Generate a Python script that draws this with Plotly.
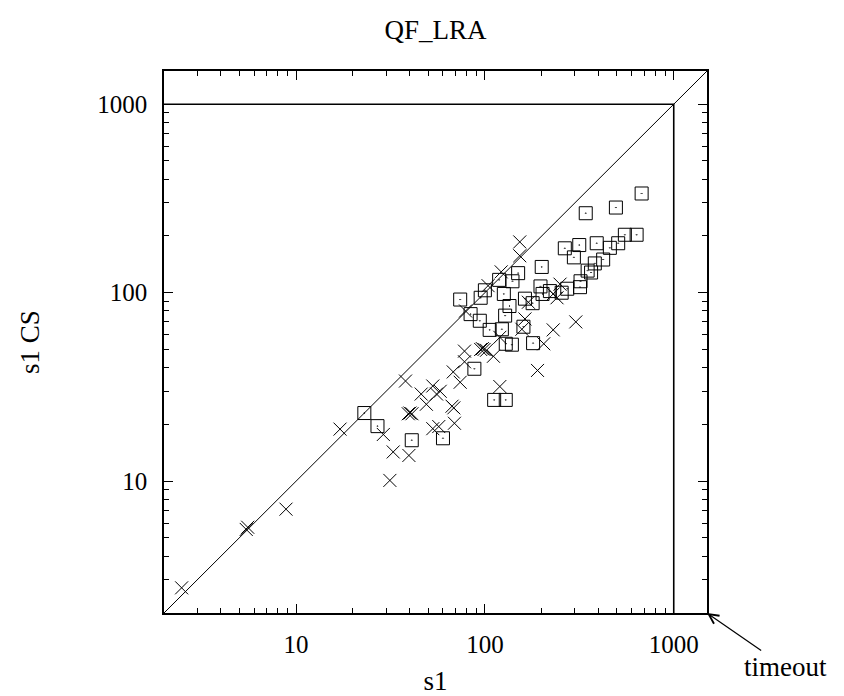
import plotly.graph_objects as go

# Run times (seconds) of the two configurations; timed-out runs are placed at TIMEOUT_POS
TIME_LIMIT = 1000
TIMEOUT_POS = 1500
AXIS_MIN = 2

# Instances drawn with crosses
cross_s1 = [2.48, 5.45, 5.55, 8.85, 17.1, 29, 32.7, 39.6, 31.4, 38, 46, 53, 49,
            55.5, 58, 39.3, 40.1, 41.1, 67, 68.5, 69, 53, 57, 68, 74, 78, 78,
            95, 97, 99, 102, 111, 79, 303, 230, 205, 190, 120, 163, 157, 120,
            170, 250, 230, 241, 104, 122, 153, 153]
cross_cs = [2.72, 5.55, 5.7, 7.11, 18.9, 17.7, 14.3, 13.7, 10.1, 34, 29, 32,
            25.6, 29, 30, 22.8, 23, 22.8, 25, 24.5, 20.3, 19, 19.5, 38, 33.5,
            49, 43, 50, 50.5, 50, 49.5, 46, 80, 70, 63.5, 53.6, 38.7, 31.8,
            72.6, 64, 58, 89, 111, 98.5, 94, 109, 129, 186, 157]

# Instances drawn with squares
square_s1 = [676, 494, 342, 636, 551, 508, 391, 316, 265, 296, 459, 423, 382,
             350, 365, 321, 319, 200, 150, 119, 140, 126, 135, 197, 221, 273,
             255, 163, 179, 202, 74, 95, 100, 23, 27, 41, 60, 88, 112, 129, 84,
             94, 106, 128, 123, 160, 129, 139, 180, TIMEOUT_POS]
square_cs = [336, 283, 264, 203, 203, 183, 183, 179, 172, 154, 173, 150, 143,
             131, 128, 115, 107, 137, 127, 117, 115, 98.5, 85, 108, 102, 105,
             100, 93, 88, 98.5, 92, 94, 103, 23, 19.6, 16.5, 16.9, 39.5, 27,
             27, 77, 71, 63.5, 75.6, 64, 66, 53.6, 53, 54, 805]

major_ticks = [10, 100, 1000]
major_labels = ["10", "100", "1000"]
minor_ticks = [m * d for d in (1, 10, 100) for m in range(2, 10)]

FONT = "Liberation Serif"
FS = 25        # tick labels
FS_TEXT = 27   # titles and the timeout note

fig = go.Figure()

# Reference lines: diagonal y = x and the time limit in both directions
fig.add_trace(go.Scatter(x=[AXIS_MIN, TIMEOUT_POS], y=[AXIS_MIN, TIMEOUT_POS],
                         mode="lines", line=dict(color="black", width=1),
                         hoverinfo="skip"))
fig.add_trace(go.Scatter(x=[AXIS_MIN, TIME_LIMIT, TIME_LIMIT],
                         y=[TIME_LIMIT, TIME_LIMIT, AXIS_MIN],
                         mode="lines", line=dict(color="black", width=1.6),
                         hoverinfo="skip"))

fig.add_trace(go.Scatter(x=cross_s1, y=cross_cs, mode="markers",
                         marker=dict(symbol="x-thin", size=13, color="black",
                                     line=dict(color="black", width=1))))
fig.add_trace(go.Scatter(x=square_s1, y=square_cs, mode="markers",
                         cliponaxis=False,
                         marker=dict(symbol="square-open-dot", size=13,
                                     color="black",
                                     line=dict(color="black", width=1))))

axis_common = dict(
    type="log",
    range=[0.30103, 3.17609],
    tickvals=major_ticks,
    ticktext=major_labels,
    ticks="inside",
    ticklen=9,
    tickwidth=1.2,
    tickcolor="black",
    showline=True,
    linecolor="black",
    linewidth=1.6,
    mirror="allticks",
    showgrid=False,
    zeroline=False,
    automargin=False,
    tickfont=dict(family=FONT, size=FS, color="black"),
    minor=dict(tickvals=minor_ticks, ticks="inside", ticklen=5,
               tickwidth=1.2, tickcolor="black", showgrid=False),
)

fig.update_xaxes(**axis_common, ticklabelstandoff=8,
                 title=dict(text="s1", font=dict(family=FONT, size=FS_TEXT,
                                                 color="black"), standoff=16))
fig.update_yaxes(**axis_common, ticklabelstandoff=10,
                 title=dict(text="s1 CS", font=dict(family=FONT, size=FS_TEXT,
                                                    color="black"), standoff=50))

fig.add_annotation(x=3.17609, y=0.30103, xref="x", yref="y",
                   text="timeout", showarrow=True, arrowhead=5, arrowsize=1.6,
                   arrowwidth=1.2, arrowcolor="black", ax=78, ay=54,
                   font=dict(family=FONT, size=FS_TEXT, color="black"))

fig.update_layout(
    width=844, height=696, autosize=False,
    margin=dict(l=164, r=137, t=71, b=83, autoexpand=False),
    paper_bgcolor="white", plot_bgcolor="white",
    showlegend=False,
    title=dict(text="QF_LRA", x=0.5, xref="paper", xanchor="center",
               y=1 - 30 / 696, yref="container", yanchor="middle",
               font=dict(family=FONT, size=FS_TEXT, color="black"),
               automargin=False),
)

fig.write_html("out.html")
